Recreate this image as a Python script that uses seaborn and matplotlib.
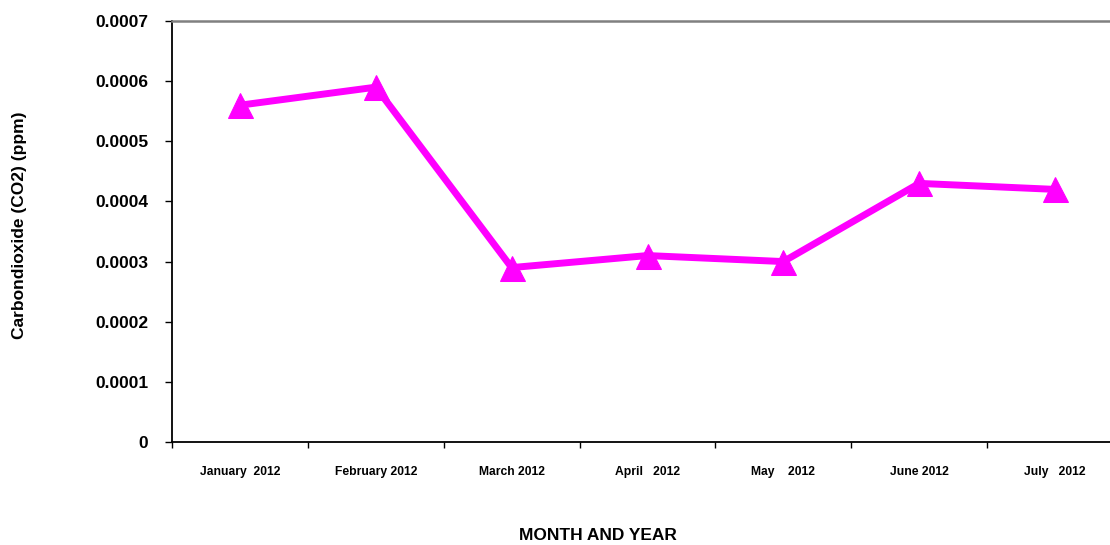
import matplotlib
matplotlib.use("Agg")
import matplotlib.pyplot as plt
import seaborn as sns
import pandas as pd
import numpy as np

months = ["January  2012", "February 2012", "March 2012", "April   2012",
          "May    2012", "June 2012", "July   2012"]
co2 = [0.00056, 0.00059, 0.00029, 0.00031, 0.00030, 0.00043, 0.00042]
yticks = [0, 0.0001, 0.0002, 0.0003, 0.0004, 0.0005, 0.0006, 0.0007]
ytick_labels = ["0", "0.0001", "0.0002", "0.0003", "0.0004", "0.0005", "0.0006", "0.0007"]

sns.set_style("white")
plt.rcParams['font.family'] = ['Liberation Sans', 'DejaVu Sans']
plt.rcParams['font.weight'] = 'bold'
plt.rcParams['text.color'] = 'black'
plt.rcParams['axes.labelcolor'] = 'black'
plt.rcParams['xtick.color'] = 'black'
plt.rcParams['ytick.color'] = 'black'

df = pd.DataFrame({"month": months, "co2": co2})

fig = plt.figure(figsize=(11.10, 5.45), dpi=100)
ax = fig.add_axes([172/1110, 103/545, 951/1110, 421/545])

sns.lineplot(data=df, x="month", y="co2", ax=ax, color="#FF00FF", linewidth=5,
             marker="^", markersize=18, markeredgecolor="#FF00FF", sort=False)

ax.set_xlim(-0.5, len(months) - 0.5)
ax.set_ylim(0, 0.0007)
ax.set_yticks(yticks)
ax.set_yticklabels(ytick_labels, fontsize=12.5, fontweight='bold')
ax.set_xticks(range(len(months)))
ax.set_xticklabels(months, fontsize=8.7, fontweight='bold')
ax.set_xticks(np.arange(-0.5, len(months), 1), minor=True)
ax.tick_params(axis='x', which='major', length=0, pad=17)
ax.tick_params(axis='x', which='minor', length=4, width=1, direction='out', color='black', bottom=True)
ax.tick_params(axis='y', which='major', length=5, width=1, direction='out', color='black', pad=12, left=True)

for s in ['left', 'bottom']:
    ax.spines[s].set_color('black')
    ax.spines[s].set_linewidth(1.3)
ax.spines['top'].set_color('#808080')
ax.spines['top'].set_linewidth(1.8)
ax.spines['right'].set_visible(False)

ax.set_xlabel("MONTH AND YEAR", fontsize=12.5, fontweight='bold')
ax.set_ylabel("Carbondioxide (CO2) (ppm)", fontsize=12.5, fontweight='bold')
ax.xaxis.set_label_coords((598-172)/951, (442-528)/421)
ax.yaxis.set_label_coords((27-172)/951, (442-225)/421)

fig.savefig("out.png", dpi=100)
